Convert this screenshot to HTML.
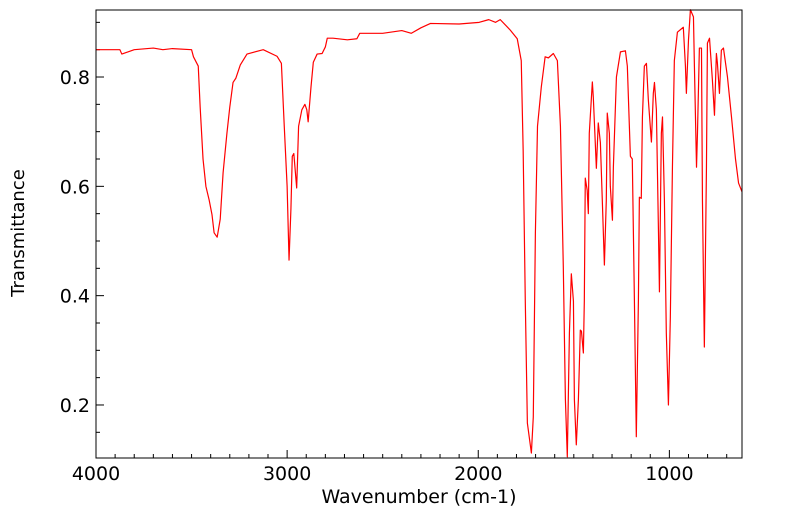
<!DOCTYPE html>
<html><head><meta charset="utf-8"><style>
html,body{margin:0;padding:0;background:#fff;}
svg text{font-family:"DejaVu Sans","Liberation Sans",sans-serif;fill:#000;}
</style></head><body>
<svg id="chart" width="799" height="516" viewBox="0 0 799 516" xmlns="http://www.w3.org/2000/svg">
<g id="axes"></g>
<path id="spectrum" fill="none" stroke="#ff0000" stroke-width="1.2" stroke-linejoin="round"/>
<rect x="96" y="10" width="646" height="448" fill="none" stroke="#000" stroke-width="1"/>
<text x="419" y="503" font-size="19" text-anchor="middle">Wavenumber (cm-1)</text>
<text x="24" y="233" font-size="18" text-anchor="middle" transform="rotate(-90 24 233)">Transmittance</text>
</svg>
<script>
const wavenumbers=[4000,3875,3865,3800,3700,3650,3600,3500,3490,3465,3455,3440,3425,3408,3393,3382,3366,3350,3335,3315,3300,3283,3268,3245,3210,3125,3053,3030,3015,3000,2990,2980,2973,2965,2950,2940,2923,2907,2897,2890,2875,2863,2843,2817,2800,2790,2760,2685,2635,2620,2500,2400,2350,2300,2250,2100,1995,1945,1910,1885,1833,1796,1775,1765,1754,1743,1722,1712,1701,1690,1670,1650,1633,1607,1586,1570,1555,1544,1534,1523,1513,1502,1497,1487,1476,1466,1460,1450,1445,1440,1430,1424,1419,1403,1398,1382,1372,1361,1351,1340,1330,1325,1314,1309,1298,1293,1277,1256,1230,1220,1204,1194,1183,1173,1162,1157,1147,1141,1131,1120,1110,1094,1084,1078,1068,1057,1052,1042,1036,1026,1016,1005,995,984,974,958,927,916,911,900,890,874,869,858,853,843,832,827,817,806,801,790,775,764,754,749,738,728,717,696,675,654,638,620];
const transmittance=[0.85,0.85,0.842,0.85,0.853,0.85,0.852,0.85,0.837,0.82,0.745,0.65,0.60,0.575,0.548,0.515,0.507,0.54,0.625,0.697,0.745,0.79,0.798,0.822,0.842,0.85,0.838,0.825,0.71,0.60,0.465,0.56,0.655,0.66,0.597,0.71,0.74,0.75,0.74,0.718,0.782,0.827,0.842,0.843,0.855,0.871,0.871,0.868,0.87,0.88,0.88,0.885,0.88,0.89,0.898,0.897,0.9,0.905,0.9,0.905,0.886,0.87,0.83,0.666,0.392,0.167,0.112,0.178,0.515,0.71,0.782,0.837,0.835,0.843,0.83,0.71,0.453,0.21,0.105,0.332,0.44,0.39,0.21,0.127,0.21,0.337,0.335,0.295,0.39,0.615,0.593,0.55,0.697,0.791,0.763,0.633,0.716,0.68,0.575,0.456,0.575,0.734,0.697,0.60,0.538,0.635,0.8,0.846,0.848,0.82,0.655,0.65,0.392,0.142,0.392,0.58,0.578,0.727,0.82,0.825,0.758,0.681,0.77,0.79,0.74,0.515,0.407,0.697,0.727,0.575,0.332,0.2,0.36,0.635,0.83,0.882,0.891,0.82,0.77,0.868,0.923,0.91,0.82,0.635,0.697,0.853,0.853,0.575,0.306,0.635,0.862,0.871,0.795,0.73,0.843,0.827,0.77,0.849,0.853,0.80,0.727,0.65,0.606,0.59];
const xTickLabels=[4000,3000,2000,1000];
const yTickLabels=[0.2,0.4,0.6,0.8];

const X0=96,X1=742,Y0=10,Y1=458;
const WMAX=4000,WMIN=620,TMIN=0.103,TMAX=0.9226;
function xs(w){return X0+(WMAX-w)/(WMAX-WMIN)*(X1-X0);}
function ys(t){return Y1-(t-TMIN)/(TMAX-TMIN)*(Y1-Y0);}
const NS='http://www.w3.org/2000/svg';
const axes=document.getElementById('axes');
function line(x1,y1,x2,y2,name){const l=document.createElementNS(NS,'line');
l.setAttribute('x1',x1);l.setAttribute('y1',y1);l.setAttribute('x2',x2);l.setAttribute('y2',y2);
l.setAttribute('stroke','#000');l.setAttribute('stroke-width','1');


axes.appendChild(l);}
function text(x,y,s,anchor,name){const t=document.createElementNS(NS,'text');
t.setAttribute('x',x);t.setAttribute('y',y);t.setAttribute('font-size','19');t.setAttribute('text-anchor',anchor);t.textContent=s;


axes.appendChild(t);}
for(let w=4000;w>=WMIN;w-=100){const x=xs(w);const major=w%1000===0;line(x,Y1,x,Y1-(major?8:4),major?'x-major-tick':'x-minor-tick');}
xTickLabels.forEach(w=>text(xs(w),Y1+22,String(w),'middle','x-tick-label'));
for(let k=3;k<=18;k++){const t=k*0.05;const y=ys(t);if(y<Y0||y>Y1)continue;const major=k%4===0;line(X0,y,X0+(major?8:4),y,major?'y-major-tick':'y-minor-tick');}
yTickLabels.forEach(t=>text(X0-6,ys(t)+7,t.toFixed(1),'end','y-tick-label'));
let d='';
wavenumbers.forEach((w,i)=>{d+=(i?'L':'M')+xs(w).toFixed(2)+','+ys(transmittance[i]).toFixed(2);});
document.getElementById('spectrum').setAttribute('d',d);
</script>
</body></html>
